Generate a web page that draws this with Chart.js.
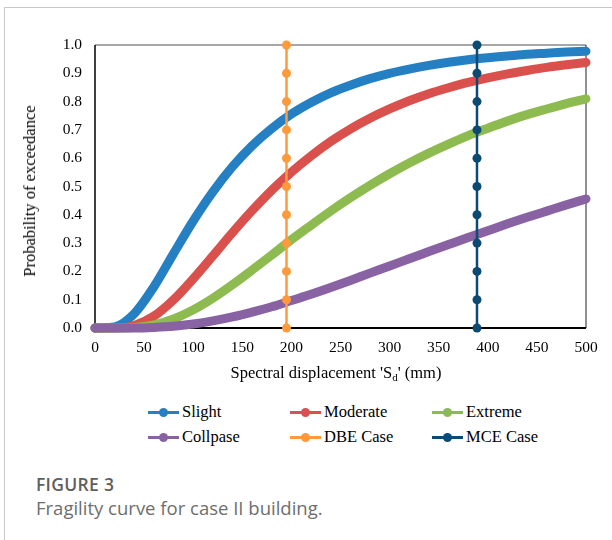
<!DOCTYPE html>
<html>
<head>
<meta charset="utf-8">
<script src="https://cdn.jsdelivr.net/npm/chart.js@4/dist/chart.umd.min.js"></script>
<style>
  html, body { margin: 0; padding: 0; background: #fff; }
  #page { position: relative; width: 612px; height: 540px; overflow: hidden; }
  #frame { position: absolute; left: 4px; top: 7px; width: 700px; height: 600px;
           border-left: 1px solid #c9c9c9; border-top: 1px solid #c9c9c9; }
  #chartBox { position: absolute; left: 0; top: 0; width: 612px; height: 400px; }
  .serif { font-family: "Liberation Serif", "Times New Roman", serif; font-size: 16.5px; color: #000; }
  #yTitle { position: absolute; left: 30px; top: 191px; white-space: nowrap;
            transform: translate(-50%, -50%) rotate(-90deg); }
  #xTitle { position: absolute; left: 336px; top: 373px; white-space: nowrap;
            transform: translate(-50%, -50%); }
  #xTitle sub { font-size: 11px; vertical-align: -3px; }
  .legendItem { position: absolute; height: 20px; white-space: nowrap; }
  .legendItem .swatch { position: absolute; left: 0; top: 9px; width: 31px; height: 2.5px; }
  .legendItem .dot { position: absolute; left: 11px; top: 5.5px; width: 9px; height: 9px; border-radius: 50%; }
  .legendItem .label { position: absolute; left: 34px; top: 0; line-height: 20px; }
  .caption { position: absolute; left: 36px; font-family: "Open Sans", sans-serif; white-space: nowrap; }
  #figLabel { top: 472px; font-weight: 600; font-size: 17.5px; line-height: 24px; color: #5f5f5f; letter-spacing: 0.3px; }
  #figText { top: 496px; font-size: 18.5px; line-height: 24px; color: #6e6e6e; }
</style>
</head>
<body>
<div id="page">
  <div id="frame"></div>
  <div id="chartBox"><canvas id="fragility" width="612" height="400"></canvas></div>
  <div id="yTitle" class="serif">Probability of exceedance</div>
  <div id="xTitle" class="serif">Spectral displacement 'S<sub>d</sub>' (mm)</div>
  <div id="legend"></div>
  <div id="figLabel" class="caption">FIGURE 3</div>
  <div id="figText" class="caption">Fragility curve for case II building.</div>
</div>
<script>
// spectral displacement (mm) at which the curves were sampled
const displacement = [0, 20, 40, 60, 80, 100, 120, 140, 160, 180, 200, 220, 240,
                      260, 280, 300, 320, 340, 360, 380, 400, 420, 440, 460, 480, 500];

// probability of exceedance per damage state
const slight   = [0, 0.004, 0.051, 0.146, 0.263, 0.378, 0.481, 0.570, 0.644, 0.705, 0.756, 0.797, 0.831,
                  0.858, 0.881, 0.900, 0.915, 0.928, 0.939, 0.948, 0.955, 0.961, 0.967, 0.971, 0.975, 0.978];
const moderate = [0, 0.000, 0.009, 0.042, 0.100, 0.174, 0.255, 0.337, 0.415, 0.487, 0.551, 0.608, 0.659,
                  0.703, 0.741, 0.774, 0.803, 0.828, 0.849, 0.868, 0.884, 0.898, 0.910, 0.921, 0.930, 0.938];
const extreme  = [0, 0.000, 0.002, 0.011, 0.032, 0.064, 0.105, 0.153, 0.205, 0.258, 0.312, 0.363, 0.413,
                  0.460, 0.504, 0.545, 0.583, 0.618, 0.650, 0.680, 0.706, 0.731, 0.754, 0.774, 0.793, 0.810];
const collapse = [0, 0.000, 0.000, 0.002, 0.006, 0.014, 0.025, 0.039, 0.056, 0.075, 0.097, 0.119, 0.143,
                  0.168, 0.194, 0.219, 0.245, 0.270, 0.295, 0.320, 0.344, 0.368, 0.391, 0.413, 0.435, 0.456];

// design / maximum considered earthquake demand lines
const dbeDisplacement = 195;
const mceDisplacement = 389;
const caseProbabilities = [0, 0.1, 0.2, 0.3, 0.4, 0.5, 0.6, 0.7, 0.8, 0.9, 1.0];

const colors = {
    slight: '#2480c2',
    moderate: '#d9504c',
    extreme: '#8dbb50',
    collapse: '#8862a3',
    dbe: '#ff9a3c',
    mce: '#0d4a72'
};

const toPoints = (xs, ys) => xs.map((x, i) => ({ x, y: ys[i] }));

function curve(label, values, color, order) {
    return {
        label,
        data: toPoints(displacement, values),
        borderColor: color,
        backgroundColor: color,
        borderWidth: 9,
        borderCapStyle: 'round',
        borderJoinStyle: 'round',
        cubicInterpolationMode: 'monotone',
        pointRadius: 0,
        clip: false,
        order
    };
}

function demandLine(label, sd, color, order) {
    return {
        label,
        data: caseProbabilities.map(p => ({ x: sd, y: p })),
        borderColor: color,
        backgroundColor: color,
        borderWidth: 2.5,
        pointRadius: 4.5,
        pointBorderWidth: 0,
        clip: false,
        order
    };
}

// plot frame: gray top, black left/bottom, dark right
const frameLines = {
    id: 'frameLines',
    beforeDatasetsDraw(chart) {
        const { ctx, chartArea: a } = chart;
        ctx.save();
        ctx.lineCap = 'butt';
        ctx.strokeStyle = '#8a8a8a';
        ctx.lineWidth = 1.5;
        ctx.beginPath(); ctx.moveTo(a.left, a.top); ctx.lineTo(a.right, a.top); ctx.stroke();
        ctx.strokeStyle = '#222';
        ctx.lineWidth = 1;
        ctx.beginPath(); ctx.moveTo(a.right, a.top); ctx.lineTo(a.right, a.bottom); ctx.stroke();
        ctx.strokeStyle = '#000';
        ctx.lineWidth = 1.5;
        ctx.beginPath(); ctx.moveTo(a.left, a.top); ctx.lineTo(a.left, a.bottom); ctx.stroke();
        ctx.lineWidth = 2;
        ctx.beginPath(); ctx.moveTo(a.left - 1, a.bottom); ctx.lineTo(a.right, a.bottom); ctx.stroke();
        ctx.restore();
    }
};

const tickFont = { family: '"Liberation Serif", "Times New Roman", serif', size: 15.5 };

new Chart(document.getElementById('fragility'), {
    type: 'line',
    data: {
        datasets: [
            curve('Slight', slight, colors.slight, 6),
            curve('Moderate', moderate, colors.moderate, 5),
            curve('Extreme', extreme, colors.extreme, 4),
            curve('Collpase', collapse, colors.collapse, 3),
            demandLine('DBE Case', dbeDisplacement, colors.dbe, 2),
            demandLine('MCE Case', mceDisplacement, colors.mce, 1)
        ]
    },
    options: {
        responsive: false,
        animation: false,
        layout: { padding: { top: 45, right: 26, left: 0, bottom: 0 } },
        plugins: {
            legend: { display: false },
            tooltip: { enabled: false }
        },
        scales: {
            x: {
                type: 'linear',
                min: 0,
                max: 500,
                grid: { display: false, drawTicks: false },
                border: { display: false },
                ticks: { stepSize: 50, color: '#000', font: tickFont, padding: 11, maxRotation: 0 },
                afterFit(scale) { scale.height = 72; }
            },
            y: {
                min: 0,
                max: 1,
                grid: { display: false, drawTicks: false },
                border: { display: false },
                ticks: {
                    stepSize: 0.1,
                    color: '#000',
                    font: tickFont,
                    padding: 13,
                    callback: v => v.toFixed(1)
                },
                afterFit(scale) { scale.width = 95; }
            }
        }
    },
    plugins: [frameLines]
});

// legend laid out as a 3-column grid
const legendEntries = [
    ['Slight', colors.slight, 148, 402],
    ['Moderate', colors.moderate, 290, 402],
    ['Extreme', colors.extreme, 432, 402],
    ['Collpase', colors.collapse, 148, 427],
    ['DBE Case', colors.dbe, 290, 427],
    ['MCE Case', colors.mce, 432, 427]
];
const legend = document.getElementById('legend');
legendEntries.forEach(([text, color, left, top]) => {
    const item = document.createElement('div');
    item.className = 'legendItem serif';
    item.style.left = left + 'px';
    item.style.top = top + 'px';
    item.innerHTML = `<span class="swatch" style="background:${color}"></span>` +
                     `<span class="dot" style="background:${color}"></span>` +
                     `<span class="label">${text}</span>`;
    legend.appendChild(item);
});
</script>
</body>
</html>
